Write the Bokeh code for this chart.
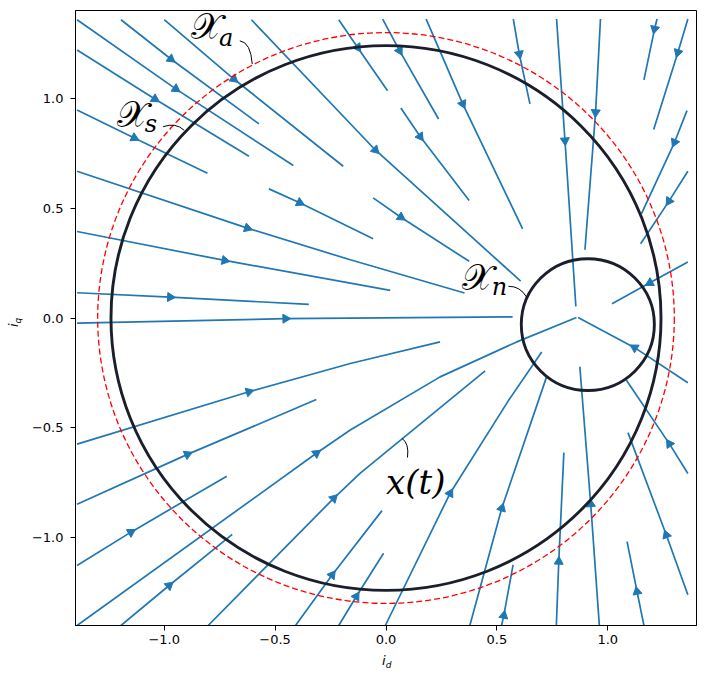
import math
from bokeh.plotting import figure
from bokeh.models import Label, FixedTicker, Div
from bokeh.layouts import row, column
from bokeh.embed import file_html
from bokeh.resources import INLINE

# ---------------- data ----------------
x_ticks = [-1.0, -0.5, 0.0, 0.5, 1.0]
y_ticks = [-1.0, -0.5, 0.0, 0.5, 1.0]
tick_labels = ["\u22121.0", "\u22120.5", "0.0", "0.5", "1.0"]

# streamlines: first point = upstream start, second point = arrow location
stream_xs = [
    [-1.393, -0.948, -0.418],
    [-1.195, -0.970, -0.573],
    [-1.000, -0.686, -0.193],
    [-1.393, -1.042, -0.618],
    [-1.393, -1.135, -0.805],
    [-0.607, -0.048, 0.607],
    [-0.213, -0.128, 0.007],
    [-0.528, -0.389, -0.058],
    [-1.393, -0.625, -0.161, 0.354],
    [-1.393, -0.727, 0.019],
    [-1.393, -0.973, -0.348],
    [-1.393, -0.453, 0.571],
    [-0.015, 0.061, 0.237],
    [0.181, 0.346, 0.616],
    [0.067, 0.154, 0.375],
    [-0.058, 0.067, 0.375],
    [0.574, 0.601, 0.649],
    [0.769, 0.807, 0.856],
    [0.967, 0.945, 0.897],
    [1.222, 1.211, 1.163],
    [1.361, 1.316, 1.207],
    [1.357, 1.301, 1.152],
    [1.361, 1.276, 1.148],
    [1.361, 1.190, 1.019],
    [1.361, 1.121, 0.866],
    [-1.393, -0.618, -0.161, 0.244],
    [-1.393, -0.895, -0.314],
    [-1.393, -1.150, -0.718],
    [-1.393, -0.314, -0.161, 0.244, 0.587, 0.859],
    [-1.195, -0.978, -0.693],
    [-0.802, -0.236, -0.116, 0.447],
    [-0.408, -0.243, -0.018],
    [-0.213, -0.134, -0.011],
    [-0.003, 0.289, 0.552, 0.702],
    [0.378, 0.522, 0.724],
    [0.521, 0.531, 0.573],
    [0.768, 0.779, 0.802],
    [0.962, 0.923, 0.874],
    [1.163, 1.132, 1.087],
    [1.361, 1.264, 1.091],
    [1.361, 1.278, 1.084],
]
stream_ys = [
    [1.358, 1.043, 0.694],
    [1.358, 1.179, 0.884],
    [1.358, 1.088, 0.691],
    [1.220, 0.997, 0.736],
    [0.947, 0.820, 0.659],
    [1.358, 0.765, 0.168],
    [1.358, 1.232, 1.035],
    [0.588, 0.525, 0.361],
    [0.668, 0.409, 0.265, 0.114],
    [0.394, 0.262, 0.126],
    [0.115, 0.095, 0.062],
    [-0.023, -0.003, 0.005],
    [1.361, 1.217, 0.906],
    [1.361, 0.975, 0.406],
    [0.956, 0.826, 0.535],
    [0.547, 0.459, 0.258],
    [1.361, 1.202, 0.975],
    [1.361, 0.808, 0.053],
    [1.361, 0.936, 0.311],
    [1.361, 1.316, 1.084],
    [1.361, 1.209, 0.858],
    [0.944, 0.800, 0.475],
    [0.668, 0.532, 0.338],
    [0.255, 0.160, 0.065],
    [-0.295, -0.135, 0.002],
    [-0.574, -0.336, -0.207, -0.109],
    [-0.848, -0.621, -0.371],
    [-1.127, -0.975, -0.720],
    [-1.400, -0.616, -0.510, -0.268, -0.110, 0.002],
    [-1.400, -1.218, -0.985],
    [-1.400, -0.821, -0.706, -0.241],
    [-1.400, -1.170, -0.877],
    [-1.400, -1.268, -1.071],
    [-1.400, -0.798, -0.376, -0.155],
    [-1.400, -0.866, -0.268],
    [-1.400, -1.355, -1.124],
    [-1.400, -1.109, -0.613],
    [-1.400, -0.847, -0.222],
    [-1.400, -1.246, -1.018],
    [-1.260, -0.988, -0.522],
    [-0.708, -0.573, -0.283],
]

# sets: X_a (solid), X_s (dashed), X_n (small)
circle_names = ["X_a", "X_s", "X_n"]
circle_cx = [0.0, 0.0, 0.91]
circle_cy = [0.0, 0.0, -0.03]
circle_r = [1.24, 1.30, 0.30]

# ---------------- figure ----------------
p = figure(width=685, height=653, x_range=(-1.4, 1.4), y_range=(-1.4, 1.4),
           output_backend="svg", toolbar_location=None,
           min_border_left=53, min_border_right=11, min_border_top=10,
           min_border_bottom=28, margin=0)
p.grid.visible = False
p.outline_line_color = "black"
p.outline_line_width = 1
p.background_fill_color = "white"
p.border_fill_color = "white"

for ax, ticks in ((p.xaxis, x_ticks), (p.yaxis, y_ticks)):
    ax.ticker = FixedTicker(ticks=ticks)
    ax.major_label_overrides = {t: lab for t, lab in zip(ticks, tick_labels)}
    ax.minor_tick_line_color = None
    ax.major_tick_in = 0
    ax.major_tick_out = 5
    ax.major_label_text_font = "DejaVu Sans"
    ax.major_label_text_font_size = "13px"
    ax.major_label_text_color = "black"
    ax.axis_line_color = "black"
p.xaxis.major_label_standoff = 4
p.yaxis.major_label_standoff = 7

blue = "#1f77b4"
p.multi_line(xs=stream_xs, ys=stream_ys, line_color=blue, line_width=1.7)

# arrow heads at second point of each streamline, oriented along the line
ax_pts, ay_pts, angs = [], [], []
for xs, ys in zip(stream_xs, stream_ys):
    dx = xs[2] - xs[0]
    dy = ys[2] - ys[0]
    ax_pts.append(xs[1])
    ay_pts.append(ys[1])
    angs.append(math.atan2(dy, dx) - math.pi / 2)
p.scatter(x=ax_pts, y=ay_pts, angle=angs, marker="triangle", size=9,
          fill_color=blue, line_color=blue)

# circles
p.ellipse(x=circle_cx[1], y=circle_cy[1], width=2 * circle_r[1], height=2 * circle_r[1],
          fill_color=None, line_color="red", line_width=1.3, line_dash="6 3")
p.ellipse(x=[circle_cx[0], circle_cx[2]], y=[circle_cy[0], circle_cy[2]],
          width=[2 * circle_r[0], 2 * circle_r[2]], height=[2 * circle_r[0], 2 * circle_r[2]],
          fill_color=None, line_color="#1b1f2b", line_width=2.9)

# annotation leaders
lead_x0 = [-0.659, -1.005, 0.552, 0.072]
lead_y0 = [1.262, 0.871, 0.144, -0.548]
lead_x1 = [-0.603, -0.910, 0.634, 0.097]
lead_y1 = [1.156, 0.855, 0.095, -0.635]
lead_cx = [-0.610, -0.948, 0.604, 0.105]
lead_cy = [1.255, 0.891, 0.146, -0.570]
p.quadratic(x0=lead_x0, y0=lead_y0, x1=lead_x1, y1=lead_y1, cx=lead_cx, cy=lead_cy,
            line_color="black", line_width=1)

def lab(x, y, t, size, font="DejaVu Serif", style="italic"):
    p.add_layout(Label(x=x, y=y, text=t, text_font=font,
                       text_font_style=style, text_font_size=size, text_color="black",
                       text_baseline="middle", text_align="center"))

script_x = "\U0001D4B3"
lab(-0.808, 1.325, script_x, "36px", style="normal")
lab(-0.721, 1.277, "a", "24px")
lab(-1.144, 0.925, script_x, "36px", style="normal")
lab(-1.060, 0.882, "s", "24px")
lab(0.413, 0.184, script_x, "36px", style="normal")
lab(0.512, 0.143, "n", "24px")
lab(0.134, -0.745, "x(t)", "34px")

# axis labels as HTML (i_d below, i_q rotated on the left)
font_css = "font-family:'DejaVu Sans';font-size:13px;line-height:13px;color:black;white-space:nowrap;"
sub_css = "font-size:9px;line-height:0;vertical-align:-3px;"
xlab = Div(text=f'<div style="{font_css}padding-left:360px;padding-top:1px;">'
                f'<i>i</i><span style="{sub_css}"><i>d</i></span></div>',
           width=685, height=26, margin=0)
ylab = Div(text=f'<div style="{font_css}position:relative;left:7px;top:326px;'
                f'width:max-content;transform:rotate(-90deg);transform-origin:0 0;">'
                f'<i>i</i><span style="{sub_css}"><i>q</i></span></div>',
           width=22, height=679, margin=0)

layout = row(ylab, column(p, xlab, spacing=0, margin=0), spacing=0, margin=0)

open("out.html", "w").write(file_html(layout, INLINE))
